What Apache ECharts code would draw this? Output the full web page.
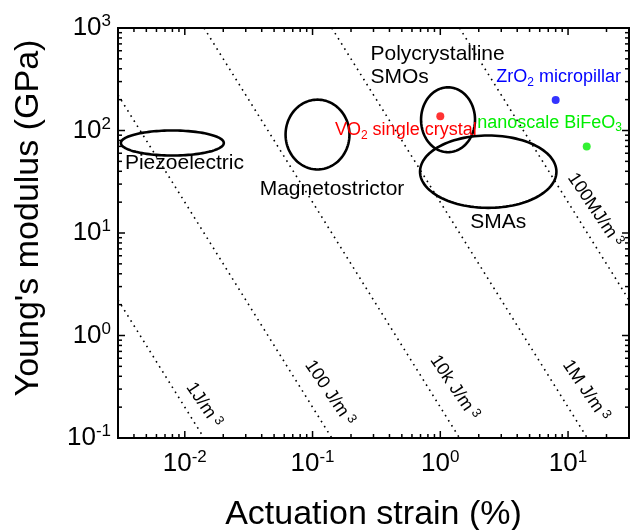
<!DOCTYPE html>
<html><head><meta charset="utf-8">
<script src="https://cdn.jsdelivr.net/npm/echarts@6/dist/echarts.min.js"></script>
<style>html,body{margin:0;padding:0;background:#fff}#c{width:630px;height:530px}</style>
</head><body><div id="c"></div>
<script>
// ---- axis ranges ----
const X_MIN = 0.003, X_MAX = 30;
const Y_MIN = 0.1, Y_MAX = 1000;
const xMajorTicks = [0.01, 0.1, 1, 10];
const yMajorTicks = [0.1, 1, 10, 100, 1000];

// ---- ellipse regions (strain %, modulus GPa) ----
const ellipseNames = ['Piezoelectric', 'Magnetostrictor', 'Polycrystalline SMOs', 'SMAs'];
const ellipseStrainLeft  = [0.00316, 0.0615, 0.707, 0.694];
const ellipseStrainRight = [0.0202, 0.1945, 1.87, 8.11];
const ellipseModBottom   = [57, 41.7, 61.4, 17.6];
const ellipseModTop      = [100, 200, 264, 89.4];

// ---- region labels ----
const regionLabelText    = ['Piezoelectric', 'Magnetostrictor', 'Polycrystalline\nSMOs', 'SMAs'];
const regionLabelStrain  = [0.0034, 0.142, 0.284, 2.84];
const regionLabelModulus = [47.7, 26.6, 426, 12.8];
const regionLabelAlign   = ['left', 'center', 'left', 'center'];

// ---- single data points ----
const pointNames   = ['VO2 single crystal', 'ZrO2 micropillar', 'nanoscale BiFeO3'];
const pointStrain  = [1.0, 8.0, 14];
const pointModulus = [138, 198, 70];
const pointColors  = ['#ff0000', '#0000ff', '#00ee00'];
const pointLabelRich   = ['VO{sub|2} single crystal', 'ZrO{sub|2} micropillar', 'nanoscale BiFeO{sub|3}'];
const pointLabelStrain = [0.537, 8.43, 7.17];
const pointLabelModulus= [100, 329, 118];

// ---- iso-energy-density guide lines (J/m^3) ----
const energyNames  = ['1J/m3', '100 J/m3', '10k J/m3', '1M J/m3', '100MJ/m3'];
const energyStart  = [[0.003, 2.22], [0.003, 222], [0.01414, 1000], [0.1414, 1000], [1.414, 1000]];
const energyEnd    = [[0.01414, 0.1], [0.1414, 0.1], [1.414, 0.1], [14.14, 0.1], [30, 2.22]];
const energyLabelRich    = ['1J/m{sup| 3}', '100 J/m{sup| 3}', '10k J/m{sup| 3}', '1M J/m{sup| 3}', '100MJ/m{sup| 3}'];
const energyLabelStrain  = [0.0141, 0.136, 1.29, 13.8, 16.3];
const energyLabelModulus = [0.21, 0.275, 0.31, 0.29, 16.8];

const FONT = "'Liberation Sans', Arial, sans-serif";

function minorTicks(lo, hi) {
  const out = [];
  for (let e = -4; e <= 4; e++) {
    for (let m = 1; m <= 9; m++) {
      const v = m * Math.pow(10, e);
      if (v > lo * 1.0001 && v < hi * 0.9999) out.push([v, m === 1 ? 1 : 0]);
    }
  }
  return out;
}
const xTickData = minorTicks(X_MIN, X_MAX).map(d => [d[0], Y_MIN, d[1]]);
const yTickData = minorTicks(Y_MIN, Y_MAX).map(d => [X_MIN, d[0], d[1]]);

function powLabel(v) {
  const e = Math.round(Math.log10(v));
  if (Math.abs(v / Math.pow(10, e) - 1) > 1e-6) return '';
  return '{b|10}{s|' + e + '}';
}
const tickRich = {
  b: { fontSize: 26, lineHeight: 30, fontFamily: FONT, color: '#000' },
  s: { fontSize: 17, lineHeight: 17, verticalAlign: 'top', fontFamily: FONT, color: '#000' }
};

const TICK_COLOR = '#000';
const chart = echarts.init(document.getElementById('c'));

const series = [];

// ticks (inward, on all four sides)
series.push({
  type: 'custom', silent: true, z: 5, clip: false,
  data: xTickData,
  renderItem(params, api) {
    const v = api.value(0), major = api.value(2);
    const b = api.coord([v, Y_MIN]), t = api.coord([v, Y_MAX]);
    const L = major ? 7 : 4;
    return { type: 'group', children: [
      { type: 'line', shape: { x1: b[0], y1: b[1], x2: b[0], y2: b[1] - L }, style: { stroke: TICK_COLOR, lineWidth: 1.5 } },
      { type: 'line', shape: { x1: t[0], y1: t[1], x2: t[0], y2: t[1] + L }, style: { stroke: TICK_COLOR, lineWidth: 1.5 } }
    ]};
  }
});
series.push({
  type: 'custom', silent: true, z: 5, clip: false,
  data: yTickData,
  renderItem(params, api) {
    const v = api.value(1), major = api.value(2);
    const l = api.coord([X_MIN, v]), r = api.coord([X_MAX, v]);
    const L = major ? 7 : 4;
    return { type: 'group', children: [
      { type: 'line', shape: { x1: l[0], y1: l[1], x2: l[0] + L, y2: l[1] }, style: { stroke: TICK_COLOR, lineWidth: 1.5 } },
      { type: 'line', shape: { x1: r[0], y1: r[1], x2: r[0] - L, y2: r[1] }, style: { stroke: TICK_COLOR, lineWidth: 1.5 } }
    ]};
  }
});

// energy lines
energyNames.forEach((n, i) => {
  series.push({
    name: n, type: 'line', silent: true, showSymbol: false, symbol: 'none', z: 2,
    data: [energyStart[i], energyEnd[i]],
    lineStyle: { color: '#000', width: 1.6, type: [1.6, 4.4] }
  });
});

// ellipses
series.push({
  type: 'custom', silent: true, z: 3,
  data: ellipseNames.map((n, i) => [ellipseStrainLeft[i], ellipseModBottom[i], ellipseStrainRight[i], ellipseModTop[i]]),
  renderItem(params, api) {
    const p1 = api.coord([api.value(0), api.value(1)]);
    const p2 = api.coord([api.value(2), api.value(3)]);
    const cx = (p1[0] + p2[0]) / 2, cy = (p1[1] + p2[1]) / 2;
    const rx = Math.abs(p2[0] - p1[0]) / 2, ry = Math.abs(p2[1] - p1[1]) / 2;
    const pts = [];
    for (let k = 0; k < 120; k++) {
      const a = k / 120 * Math.PI * 2;
      pts.push([cx + rx * Math.cos(a), cy + ry * Math.sin(a)]);
    }
    return { type: 'polygon', shape: { points: pts }, style: { fill: 'none', stroke: '#000', lineWidth: 2.6 } };
  }
});

// points
pointNames.forEach((n, i) => {
  series.push({
    name: n, type: 'scatter', symbol: 'circle', symbolSize: 8, z: 6,
    data: [[pointStrain[i], pointModulus[i]]],
    itemStyle: { color: pointColors[i] }
  });
});

// region labels
series.push({
  type: 'custom', silent: true, z: 7, clip: false,
  data: regionLabelText.map((t, i) => [regionLabelStrain[i], regionLabelModulus[i], i]),
  renderItem(params, api) {
    const i = api.value(2);
    const p = api.coord([api.value(0), api.value(1)]);
    return { type: 'text', x: p[0], y: p[1], style: {
      text: regionLabelText[i], fontSize: 21, fontFamily: FONT, fill: '#000',
      align: regionLabelAlign[i], verticalAlign: 'middle', lineHeight: 23
    }};
  }
});

// point labels
series.push({
  type: 'custom', silent: true, z: 7, clip: false,
  data: pointLabelRich.map((t, i) => [pointLabelStrain[i], pointLabelModulus[i], i]),
  renderItem(params, api) {
    const i = api.value(2);
    const p = api.coord([api.value(0), api.value(1)]);
    return { type: 'text', x: p[0], y: p[1], style: {
      text: pointLabelRich[i], fontSize: 18, fontFamily: FONT, fill: pointColors[i],
      align: 'center', verticalAlign: 'middle', lineHeight: 22,
      rich: { sub: { fontSize: 12, lineHeight: 12, verticalAlign: 'bottom', fontFamily: FONT, fill: pointColors[i] } }
    }};
  }
});

// energy labels
series.push({
  type: 'custom', silent: true, z: 7, clip: false,
  data: energyLabelRich.map((t, i) => [energyLabelStrain[i], energyLabelModulus[i], i]),
  renderItem(params, api) {
    const i = api.value(2);
    const p = api.coord([api.value(0), api.value(1)]);
    return { type: 'text', x: p[0], y: p[1], rotation: -56 * Math.PI / 180, style: {
      text: energyLabelRich[i], fontSize: 18, fontFamily: FONT, fill: '#000',
      align: 'center', verticalAlign: 'middle', lineHeight: 20,
      rich: { sup: { fontSize: 13, lineHeight: 13, verticalAlign: 'top', fontFamily: FONT, fill: '#000' } }
    }};
  }
});

chart.setOption({
  animation: false,
  backgroundColor: '#ffffff',
  grid: { left: 118, top: 28, width: 511, height: 410, show: true, borderColor: '#000', borderWidth: 2,
          backgroundColor: 'transparent', outerBoundsMode: 'none' },
  xAxis: {
    type: 'log', logBase: 10, min: X_MIN, max: X_MAX,
    name: 'Actuation strain (%)', nameLocation: 'middle', nameGap: 60,
    nameTextStyle: { fontSize: 34, fontFamily: FONT, color: '#000' },
    axisLine: { show: false }, axisTick: { show: false }, splitLine: { show: false },
    axisLabel: { margin: 11, formatter: powLabel, rich: tickRich, showMinLabel: false, showMaxLabel: false, hideOverlap: false }
  },
  yAxis: {
    type: 'log', logBase: 10, min: Y_MIN, max: Y_MAX,
    name: "Young's modulus (GPa)", nameLocation: 'middle', nameGap: 72,
    nameTextStyle: { fontSize: 34, fontFamily: FONT, color: '#000', padding: [0, 0, 0, 30] },
    axisLine: { show: false }, axisTick: { show: false }, splitLine: { show: false },
    axisLabel: { margin: 7, formatter: powLabel, rich: tickRich, hideOverlap: false }
  },
  series: series
});
</script></body></html>
